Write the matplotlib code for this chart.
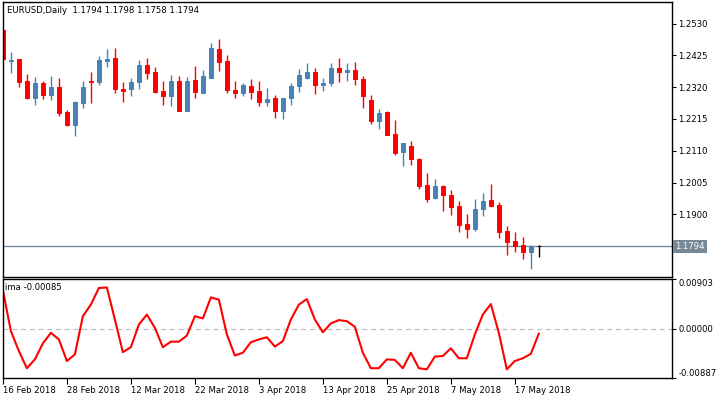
import numpy as np
import matplotlib.pyplot as plt

# EURUSD daily candles, 16 Feb 2018 .. 22 May 2018
opens = [1.2509, 1.2405, 1.2413, 1.2340, 1.2285, 1.2334, 1.2295, 1.2321, 1.2238, 1.2196,
         1.2269, 1.2340, 1.2338, 1.2405, 1.2416, 1.2314, 1.2315, 1.2338, 1.2393, 1.2370,
         1.2307, 1.2289, 1.2340, 1.2242, 1.2344, 1.2302, 1.2351, 1.2446, 1.2406, 1.2311,
         1.2302, 1.2324, 1.2307, 1.2272, 1.2284, 1.2242, 1.2285, 1.2322, 1.2351, 1.2370,
         1.2328, 1.2335, 1.2383, 1.2371, 1.2377, 1.2347, 1.2278, 1.2209, 1.2239, 1.2165,
         1.2107, 1.2126, 1.2083, 1.1997, 1.1955, 1.1994, 1.1964, 1.1928, 1.1868, 1.1853,
         1.1919, 1.1948, 1.1931, 1.1845, 1.1812, 1.1799, 1.1777, 1.1794]
highs = [1.2512, 1.2436, 1.2413, 1.2364, 1.2354, 1.2340, 1.2357, 1.2350, 1.2246, 1.2274,
         1.2340, 1.2370, 1.2423, 1.2446, 1.2449, 1.2337, 1.2350, 1.2410, 1.2416, 1.2387,
         1.2340, 1.2360, 1.2357, 1.2354, 1.2390, 1.2377, 1.2466, 1.2479, 1.2426, 1.2340,
         1.2334, 1.2347, 1.2340, 1.2317, 1.2294, 1.2284, 1.2334, 1.2380, 1.2400, 1.2383,
         1.2350, 1.2400, 1.2416, 1.2400, 1.2403, 1.2357, 1.2294, 1.2248, 1.2242, 1.2213,
         1.2136, 1.2142, 1.2086, 1.2037, 1.2015, 1.1997, 1.1980, 1.1944, 1.1902, 1.1951,
         1.1971, 1.2000, 1.1941, 1.1860, 1.1841, 1.1825, 1.1800, 1.1798]
lows = [1.2408, 1.2368, 1.2321, 1.2281, 1.2262, 1.2282, 1.2279, 1.2223, 1.2190, 1.2157,
        1.2252, 1.2269, 1.2328, 1.2386, 1.2300, 1.2272, 1.2292, 1.2314, 1.2347, 1.2301,
        1.2261, 1.2258, 1.2242, 1.2242, 1.2284, 1.2302, 1.2351, 1.2374, 1.2302, 1.2285,
        1.2292, 1.2282, 1.2256, 1.2259, 1.2219, 1.2216, 1.2262, 1.2305, 1.2348, 1.2298,
        1.2308, 1.2325, 1.2338, 1.2341, 1.2328, 1.2252, 1.2199, 1.2183, 1.2163, 1.2097,
        1.2058, 1.2064, 1.1982, 1.1939, 1.1949, 1.1912, 1.1899, 1.1840, 1.1823, 1.1846,
        1.1893, 1.1929, 1.1823, 1.1764, 1.1777, 1.1751, 1.1718, 1.1758]
closes = [1.2412, 1.2409, 1.2338, 1.2284, 1.2334, 1.2295, 1.2321, 1.2236, 1.2196, 1.2271,
          1.2321, 1.2337, 1.2410, 1.2413, 1.2315, 1.2308, 1.2337, 1.2393, 1.2368, 1.2304,
          1.2292, 1.2340, 1.2242, 1.2340, 1.2305, 1.2357, 1.2449, 1.2404, 1.2312, 1.2302,
          1.2327, 1.2305, 1.2272, 1.2281, 1.2242, 1.2284, 1.2324, 1.2360, 1.2370, 1.2328,
          1.2334, 1.2383, 1.2371, 1.2377, 1.2347, 1.2292, 1.2209, 1.2235, 1.2163, 1.2104,
          1.2136, 1.2081, 1.1995, 1.1952, 1.1994, 1.1965, 1.1925, 1.1866, 1.1853, 1.1918,
          1.1944, 1.1929, 1.1840, 1.1810, 1.1797, 1.1774, 1.1795, 1.1794]

ima = [0.0070, -0.0004, -0.0040, -0.0071, -0.0055, -0.0026, -0.0007, -0.0019, -0.0058, -0.0046,
       0.0023, 0.0044, 0.0074, 0.0075, 0.0017, -0.0042, -0.0033, 0.0008, 0.0026, 0.0002,
       -0.0033, -0.0023, -0.0023, -0.0012, 0.0023, 0.0019, 0.0057, 0.0053, -0.0010, -0.0048,
       -0.0043, -0.0024, -0.0019, -0.0015, -0.0032, -0.0022, 0.0017, 0.0044, 0.0054, 0.0017,
       -0.0006, 0.0010, 0.0016, 0.0014, 0.0004, -0.0043, -0.0071, -0.0071, -0.0055, -0.0056,
       -0.0071, -0.0043, -0.0071, -0.0073, -0.0050, -0.0049, -0.0035, -0.0053, -0.0053, -0.0010,
       0.0026, 0.0045, -0.0007, -0.0073, -0.0058, -0.0053, -0.0045, -0.00085]

date_ticks = [0, 8, 16, 24, 32, 40, 48, 56, 64]
date_labels = ['16 Feb 2018', '28 Feb 2018', '12 Mar 2018', '22 Mar 2018', '3 Apr 2018',
               '13 Apr 2018', '25 Apr 2018', '7 May 2018', '17 May 2018']
price_ticks = [1.2530, 1.2425, 1.2320, 1.2215, 1.2110, 1.2005, 1.1900]
last_price = 1.1794
ima_ticks = [0.00903, 0.0, -0.00887]

UP = '#4682B4'
DOWN = '#FF0000'
GRID = '#778899'
FS = 6.1

plt.rcParams['font.family'] = 'DejaVu Sans'
fig = plt.figure(figsize=(7.2, 4), dpi=100)
L, R = 2.5 / 720, 672 / 720
ax = fig.add_axes([L, 1 - 277 / 400, R - L, 275 / 400])
ax2 = fig.add_axes([L, 1 - 378 / 400, R - L, 99 / 400])

x = np.arange(len(opens))
o = np.array(opens)
h = np.array(highs)
lo = np.array(lows)
c = np.array(closes)
colors = [UP if cc > oo else DOWN for oo, cc in zip(o, c)]
colors[-1] = 'black'  # current bar

ax.vlines(x, lo, h, colors=colors, linewidth=1.0)
ax.bar(x, np.abs(c - o), bottom=np.minimum(o, c), width=0.52, color=colors,
       edgecolor=colors, linewidth=0.7)
ax.axhline(last_price, color=GRID, linewidth=1.0, zorder=0)

xlim = (-0.05, 83.65)
ax.set_xlim(*xlim)
ax.set_ylim(1.1693, 1.2601)
ax.set_xticks([])
ax.yaxis.tick_right()
ax.set_yticks(price_ticks)
ax.set_yticklabels(['%.4f' % p for p in price_ticks])
ax.tick_params(axis='y', direction='out', length=3, width=0.8, labelsize=FS, pad=1.5)
for s in ax.spines.values():
    s.set_linewidth(1.0)
ax.text(0.007, 0.985, 'EURUSD,Daily  1.1794 1.1798 1.1758 1.1794', transform=ax.transAxes,
        fontsize=FS, va='top', ha='left')
ax.text(1.005, last_price, '1.1794', transform=ax.get_yaxis_transform(), fontsize=FS,
        color='white', va='center', ha='left',
        bbox=dict(boxstyle='square,pad=0.25', facecolor=GRID, edgecolor='none'))

ax2.plot(x, ima, color=DOWN, linewidth=1.5)
ax2.axhline(0, color='#C0C0C0', linewidth=0.9, linestyle=(0, (4, 3)), zorder=0)
ax2.set_xlim(*xlim)
ax2.set_ylim(-0.00887, 0.00903)
ax2.yaxis.tick_right()
ax2.set_yticks(ima_ticks)
ax2.set_yticklabels(['%.5f' % v for v in ima_ticks])
ax2.tick_params(axis='y', direction='out', length=3, width=0.8, labelsize=FS, pad=1.5)
labs = ax2.get_yticklabels()
labs[0].set_verticalalignment('top')
labs[2].set_verticalalignment('bottom')
ax2.set_xticks(date_ticks)
ax2.set_xticklabels(date_labels, ha='left')
ax2.tick_params(axis='x', direction='out', length=4, width=0.8, labelsize=FS, pad=1.5)
for s in ax2.spines.values():
    s.set_linewidth(1.0)
ax2.text(0.004, 0.96, 'ima -0.00085', transform=ax2.transAxes, fontsize=FS,
         va='top', ha='left')

fig.savefig('out.png', dpi=100)
